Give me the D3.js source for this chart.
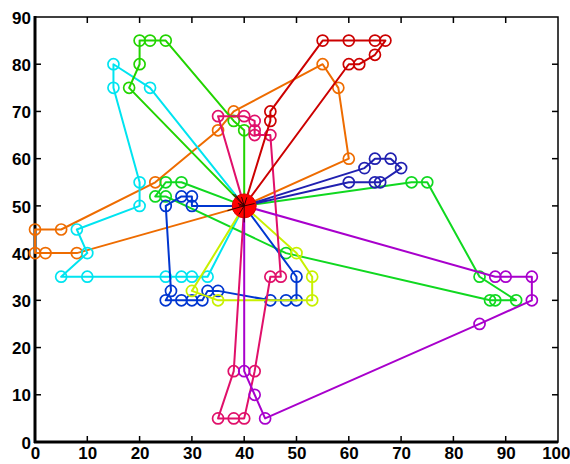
<!DOCTYPE html>
<html>
<head>
<meta charset="utf-8">
<script src="https://cdn.jsdelivr.net/npm/d3@7"></script>
<style>
  html, body { margin: 0; padding: 0; background: #fff; }
  svg { display: block; }
  .tick-label { font-family: "Liberation Sans", Arial, sans-serif; font-weight: bold; font-size: 17px; fill: #000; }
</style>
</head>
<body>
<svg id="chart" width="570" height="464"></svg>
<script>
// Depot location shared by every route
const depot = [40, 50];

// Customer sequences of each vehicle route (the depot closes both ends)
const routeRed     = [[45,68],[45,70],[55,85],[60,85],[65,85],[67,85],[65,82],[62,80],[60,80]];
const routeOrange  = [[8,40],[2,40],[0,40],[0,45],[5,45],[23,55],[35,66],[38,70],[55,80],[58,75],[60,60]];
const routeCyan    = [[22,75],[15,80],[15,75],[20,55],[20,50],[8,45],[10,40],[5,35],[10,35],[25,35],[28,35],[30,35],[33,35]];
const routeGreenN  = [[18,75],[20,80],[20,85],[22,85],[25,85],[38,68],[40,66]];
const routeGreenE  = [[28,55],[25,55],[23,52],[25,52],[48,40],[87,30],[88,30],[92,30],[85,35],[75,55],[72,55]];
const routeNavy    = [[60,55],[65,55],[66,55],[70,58],[68,60],[65,60],[63,58]];
const routeBlue    = [[30,50],[30,52],[28,52],[25,50],[26,32],[25,30],[28,30],[30,30],[32,30],[33,32],[35,32],[45,30],[48,30],[50,30],[50,35]];
const routeYellow  = [[30,32],[35,30],[53,30],[53,35],[50,40]];
const routeCrimson = [[35,69],[40,69],[42,68],[42,66],[42,65],[45,65],[47,35],[45,35],[42,15],[40,5],[38,5],[35,5],[38,15]];
const routePurple  = [[40,15],[42,10],[44,5],[85,25],[95,30],[95,35],[90,35],[88,35]];

const routes = [routeOrange, routeCyan, routeGreenN, routeGreenE, routeNavy, routeBlue, routeYellow, routeCrimson, routePurple, routeRed];
const routeColors = ["#ee6c00", "#00e4f0", "#22d400", "#10d820", "#2020b0", "#0036d0", "#c8f000", "#e0106a", "#a800cc", "#cc0000"];

// Axis tick values
const xTicks = [0,10,20,30,40,50,60,70,80,90,100];
const yTicks = [0,10,20,30,40,50,60,70,80,90];

const plotLeft = 35, plotRight = 558, plotTop = 17, plotBottom = 442;
const x = d3.scaleLinear().domain([0, 100]).range([plotLeft, plotRight]);
const y = d3.scaleLinear().domain([0, 90]).range([plotBottom, plotTop]);

const svg = d3.select("#chart");

// Plot frame
svg.append("rect")
  .attr("x", plotLeft).attr("y", plotTop)
  .attr("width", plotRight - plotLeft).attr("height", plotBottom - plotTop)
  .attr("fill", "none").attr("stroke", "#000").attr("stroke-width", 1.5);
svg.append("line").attr("x1", plotLeft).attr("x2", plotLeft).attr("y1", plotTop - 1).attr("y2", plotBottom + 1)
  .attr("stroke", "#000").attr("stroke-width", 3);
svg.append("line").attr("x1", plotLeft - 1).attr("x2", plotRight).attr("y1", plotBottom).attr("y2", plotBottom)
  .attr("stroke", "#000").attr("stroke-width", 3);

// Inward ticks on all four sides, labels on bottom and left
const tickLen = 6;
const axisBottom = d3.axisBottom(x).tickValues(xTicks).tickSize(0).tickPadding(0);
const gx = svg.append("g").attr("transform", `translate(0,${plotBottom})`).call(axisBottom);
gx.select(".domain").remove();
gx.selectAll("text").attr("class", "tick-label").attr("dy", null).attr("y", 17);
// keep the last label inside the page
gx.selectAll(".tick").filter(d => d === 100).select("text")
  .attr("text-anchor", "end").attr("x", 570 - x(100));

const axisLeft = d3.axisLeft(y).tickValues(yTicks).tickSize(0).tickPadding(0);
const gy = svg.append("g").attr("transform", `translate(${plotLeft},0)`).call(axisLeft);
gy.select(".domain").remove();
gy.selectAll("text").attr("class", "tick-label").attr("x", -4).attr("dy", "0.36em");

const tickG = svg.append("g").attr("stroke", "#000").attr("stroke-width", 1.5);
xTicks.slice(1, -1).forEach(v => {
  tickG.append("line").attr("x1", x(v)).attr("x2", x(v)).attr("y1", plotBottom).attr("y2", plotBottom - tickLen);
  tickG.append("line").attr("x1", x(v)).attr("x2", x(v)).attr("y1", plotTop).attr("y2", plotTop + tickLen);
});
yTicks.slice(1, -1).forEach(v => {
  tickG.append("line").attr("x1", plotLeft).attr("x2", plotLeft + tickLen).attr("y1", y(v)).attr("y2", y(v));
  tickG.append("line").attr("x1", plotRight).attr("x2", plotRight - tickLen).attr("y1", y(v)).attr("y2", y(v));
});

// Routes: depot -> customers -> depot
const line = d3.line().x(d => x(d[0])).y(d => y(d[1]));
routes.forEach((r, i) => {
  const path = [depot, ...r, depot];
  svg.append("path").datum(path)
    .attr("d", line)
    .attr("fill", "none")
    .attr("stroke", routeColors[i])
    .attr("stroke-width", 2)
    .attr("stroke-linejoin", "round");
  svg.append("g").selectAll("circle").data(r).join("circle")
    .attr("cx", d => x(d[0])).attr("cy", d => y(d[1]))
    .attr("r", 5.5)
    .attr("fill", "none")
    .attr("stroke", routeColors[i])
    .attr("stroke-width", 1.7);
});

// Depot marker
svg.append("circle")
  .attr("cx", x(depot[0])).attr("cy", y(depot[1]))
  .attr("r", 12).attr("fill", "#ff0000").attr("stroke", "#d00").attr("stroke-width", 1);
routes.forEach((r, i) => {
  svg.append("line")
    .attr("x1", x(depot[0])).attr("y1", y(depot[1]))
    .attr("x2", x(depot[0]) + (x(r[0][0]) - x(depot[0])) * 0.1)
    .attr("y2", y(depot[1]) + (y(r[0][1]) - y(depot[1])) * 0.1)
    .attr("stroke", "#300").attr("stroke-width", 1);
});
</script>
</body>
</html>
